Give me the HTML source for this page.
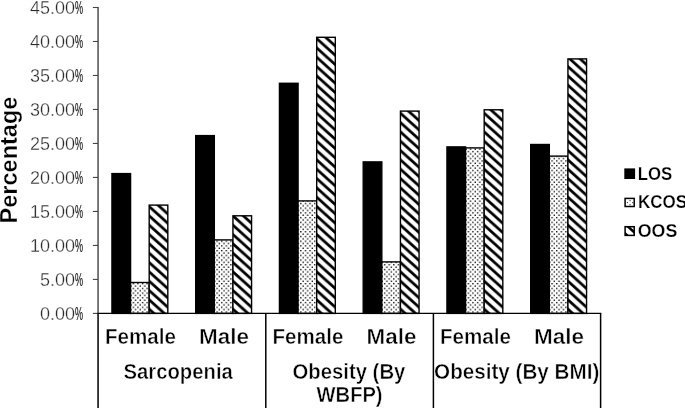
<!DOCTYPE html>
<html><head><meta charset="utf-8"><title>chart</title>
<style>html,body{margin:0;padding:0;background:#fff;}svg{display:block;will-change:transform;}text{font-family:"Liberation Sans",sans-serif;}</style></head><body>
<svg width="685" height="408" viewBox="0 0 685 408">
<defs>
<pattern id="hatch" patternUnits="userSpaceOnUse" width="10.37" height="9.33">
<rect width="10.37" height="9.33" fill="#fff"/>
<path d="M-10.37,-9.33 L20.74,18.66 M0,-9.33 L20.74,9.33 M-10.37,0 L10.37,18.66" stroke="#000" stroke-width="2.75" fill="none"/>
</pattern>
<pattern id="dots" patternUnits="userSpaceOnUse" width="4.6" height="4.72">
<rect width="4.6" height="4.72" fill="#fff"/>
<rect x="0.5" y="0.5" width="1.35" height="1.3" fill="#000"/>
<rect x="2.8" y="2.86" width="1.35" height="1.3" fill="#000"/>
</pattern>
</defs>
<rect width="685" height="408" fill="#fff"/>
<g transform="translate(111.25,308.5)"><rect x="0.7" y="-134.90" width="18.62" height="139.80" fill="#000" stroke="#000" stroke-width="1.4"/></g>
<g transform="translate(129.87,308.5)"><rect x="0.7" y="-26.00" width="18.62" height="30.90" fill="url(#dots)" stroke="#000" stroke-width="1.4"/></g>
<g transform="translate(148.49,308.5)"><rect x="0.7" y="-103.40" width="18.62" height="108.30" fill="url(#hatch)" stroke="#000" stroke-width="1.4"/></g>
<g transform="translate(195.00,308.5)"><rect x="0.7" y="-172.90" width="18.62" height="177.80" fill="#000" stroke="#000" stroke-width="1.4"/></g>
<g transform="translate(213.62,308.5)"><rect x="0.7" y="-68.60" width="18.62" height="73.50" fill="url(#dots)" stroke="#000" stroke-width="1.4"/></g>
<g transform="translate(232.24,308.5)"><rect x="0.7" y="-92.70" width="18.62" height="97.60" fill="url(#hatch)" stroke="#000" stroke-width="1.4"/></g>
<g transform="translate(278.75,308.5)"><rect x="0.7" y="-225.20" width="18.62" height="230.10" fill="#000" stroke="#000" stroke-width="1.4"/></g>
<g transform="translate(297.37,308.5)"><rect x="0.7" y="-107.60" width="18.62" height="112.50" fill="url(#dots)" stroke="#000" stroke-width="1.4"/></g>
<g transform="translate(315.99,308.5)"><rect x="0.7" y="-271.20" width="18.62" height="276.10" fill="url(#hatch)" stroke="#000" stroke-width="1.4"/></g>
<g transform="translate(362.50,308.5)"><rect x="0.7" y="-146.60" width="18.62" height="151.50" fill="#000" stroke="#000" stroke-width="1.4"/></g>
<g transform="translate(381.12,308.5)"><rect x="0.7" y="-46.60" width="18.62" height="51.50" fill="url(#dots)" stroke="#000" stroke-width="1.4"/></g>
<g transform="translate(399.74,308.5)"><rect x="0.7" y="-197.40" width="18.62" height="202.30" fill="url(#hatch)" stroke="#000" stroke-width="1.4"/></g>
<g transform="translate(446.25,308.5)"><rect x="0.7" y="-161.60" width="18.62" height="166.50" fill="#000" stroke="#000" stroke-width="1.4"/></g>
<g transform="translate(464.87,308.5)"><rect x="0.7" y="-160.60" width="18.62" height="165.50" fill="url(#dots)" stroke="#000" stroke-width="1.4"/></g>
<g transform="translate(483.49,308.5)"><rect x="0.7" y="-198.70" width="18.62" height="203.60" fill="url(#hatch)" stroke="#000" stroke-width="1.4"/></g>
<g transform="translate(530.00,308.5)"><rect x="0.7" y="-164.00" width="18.62" height="168.90" fill="#000" stroke="#000" stroke-width="1.4"/></g>
<g transform="translate(548.62,308.5)"><rect x="0.7" y="-152.40" width="18.62" height="157.30" fill="url(#dots)" stroke="#000" stroke-width="1.4"/></g>
<g transform="translate(567.24,308.5)"><rect x="0.7" y="-249.60" width="18.62" height="254.50" fill="url(#hatch)" stroke="#000" stroke-width="1.4"/></g>
<line x1="98.06" y1="7" x2="98.06" y2="313.4" stroke="#333" stroke-width="1.3"/>
<line x1="92.9" y1="313.40" x2="98.06" y2="313.40" stroke="#444" stroke-width="1.1"/>
<text x="75.1" y="319.60" font-size="18" text-anchor="end" fill="#2b2b2b" stroke="#fff" stroke-width="0.3">0.00</text>
<text transform="translate(75.1,319.60) scale(0.5,1)" font-size="18" fill="#222" stroke="#222" stroke-width="0.25">%</text>
<line x1="92.9" y1="279.41" x2="98.06" y2="279.41" stroke="#444" stroke-width="1.1"/>
<text x="75.1" y="285.61" font-size="18" text-anchor="end" fill="#2b2b2b" stroke="#fff" stroke-width="0.3">5.00</text>
<text transform="translate(75.1,285.61) scale(0.5,1)" font-size="18" fill="#222" stroke="#222" stroke-width="0.25">%</text>
<line x1="92.9" y1="245.42" x2="98.06" y2="245.42" stroke="#444" stroke-width="1.1"/>
<text x="75.1" y="251.62" font-size="18" text-anchor="end" fill="#2b2b2b" stroke="#fff" stroke-width="0.3">10.00</text>
<text transform="translate(75.1,251.62) scale(0.5,1)" font-size="18" fill="#222" stroke="#222" stroke-width="0.25">%</text>
<line x1="92.9" y1="211.43" x2="98.06" y2="211.43" stroke="#444" stroke-width="1.1"/>
<text x="75.1" y="217.63" font-size="18" text-anchor="end" fill="#2b2b2b" stroke="#fff" stroke-width="0.3">15.00</text>
<text transform="translate(75.1,217.63) scale(0.5,1)" font-size="18" fill="#222" stroke="#222" stroke-width="0.25">%</text>
<line x1="92.9" y1="177.44" x2="98.06" y2="177.44" stroke="#444" stroke-width="1.1"/>
<text x="75.1" y="183.64" font-size="18" text-anchor="end" fill="#2b2b2b" stroke="#fff" stroke-width="0.3">20.00</text>
<text transform="translate(75.1,183.64) scale(0.5,1)" font-size="18" fill="#222" stroke="#222" stroke-width="0.25">%</text>
<line x1="92.9" y1="143.45" x2="98.06" y2="143.45" stroke="#444" stroke-width="1.1"/>
<text x="75.1" y="149.65" font-size="18" text-anchor="end" fill="#2b2b2b" stroke="#fff" stroke-width="0.3">25.00</text>
<text transform="translate(75.1,149.65) scale(0.5,1)" font-size="18" fill="#222" stroke="#222" stroke-width="0.25">%</text>
<line x1="92.9" y1="109.46" x2="98.06" y2="109.46" stroke="#444" stroke-width="1.1"/>
<text x="75.1" y="115.66" font-size="18" text-anchor="end" fill="#2b2b2b" stroke="#fff" stroke-width="0.3">30.00</text>
<text transform="translate(75.1,115.66) scale(0.5,1)" font-size="18" fill="#222" stroke="#222" stroke-width="0.25">%</text>
<line x1="92.9" y1="75.47" x2="98.06" y2="75.47" stroke="#444" stroke-width="1.1"/>
<text x="75.1" y="81.67" font-size="18" text-anchor="end" fill="#2b2b2b" stroke="#fff" stroke-width="0.3">35.00</text>
<text transform="translate(75.1,81.67) scale(0.5,1)" font-size="18" fill="#222" stroke="#222" stroke-width="0.25">%</text>
<line x1="92.9" y1="41.48" x2="98.06" y2="41.48" stroke="#444" stroke-width="1.1"/>
<text x="75.1" y="47.68" font-size="18" text-anchor="end" fill="#2b2b2b" stroke="#fff" stroke-width="0.3">40.00</text>
<text transform="translate(75.1,47.68) scale(0.5,1)" font-size="18" fill="#222" stroke="#222" stroke-width="0.25">%</text>
<line x1="92.9" y1="7.49" x2="98.06" y2="7.49" stroke="#444" stroke-width="1.1"/>
<text x="75.1" y="13.69" font-size="18" text-anchor="end" fill="#2b2b2b" stroke="#fff" stroke-width="0.3">45.00</text>
<text transform="translate(75.1,13.69) scale(0.5,1)" font-size="18" fill="#222" stroke="#222" stroke-width="0.25">%</text>
<line x1="97.46000000000001" y1="313.4" x2="601.3000000000001" y2="313.4" stroke="#000" stroke-width="1.3"/>
<line x1="98.06" y1="313.4" x2="98.06" y2="408" stroke="#000" stroke-width="1.5"/>
<line x1="265.8" y1="313.4" x2="265.8" y2="408" stroke="#000" stroke-width="1.5"/>
<line x1="433.4" y1="313.4" x2="433.4" y2="408" stroke="#000" stroke-width="1.5"/>
<line x1="600.6" y1="313.4" x2="600.6" y2="408" stroke="#000" stroke-width="1.5"/>
<text x="105.00" y="343.6" font-size="21.4" font-weight="bold" fill="#000" stroke="#fff" stroke-width="0.45" textLength="70.90" lengthAdjust="spacingAndGlyphs">Female</text>
<text x="199.00" y="343.6" font-size="21.4" font-weight="bold" fill="#000" stroke="#fff" stroke-width="0.45" textLength="50.00" lengthAdjust="spacingAndGlyphs">Male</text>
<text x="272.50" y="343.6" font-size="21.4" font-weight="bold" fill="#000" stroke="#fff" stroke-width="0.45" textLength="70.90" lengthAdjust="spacingAndGlyphs">Female</text>
<text x="366.50" y="343.6" font-size="21.4" font-weight="bold" fill="#000" stroke="#fff" stroke-width="0.45" textLength="50.00" lengthAdjust="spacingAndGlyphs">Male</text>
<text x="440.00" y="343.6" font-size="21.4" font-weight="bold" fill="#000" stroke="#fff" stroke-width="0.45" textLength="70.90" lengthAdjust="spacingAndGlyphs">Female</text>
<text x="534.00" y="343.6" font-size="21.4" font-weight="bold" fill="#000" stroke="#fff" stroke-width="0.45" textLength="50.00" lengthAdjust="spacingAndGlyphs">Male</text>
<text x="123.50" y="378.9" font-size="21.4" font-weight="bold" fill="#000" stroke="#fff" stroke-width="0.45" textLength="109.30" lengthAdjust="spacingAndGlyphs">Sarcopenia</text>
<text x="292.40" y="378.8" font-size="21.4" font-weight="bold" fill="#000" stroke="#fff" stroke-width="0.45" textLength="113.00" lengthAdjust="spacingAndGlyphs">Obesity (By</text>
<text x="316.60" y="401.5" font-size="21.4" font-weight="bold" fill="#000" stroke="#fff" stroke-width="0.45" textLength="66.00" lengthAdjust="spacingAndGlyphs">WBFP)</text>
<text x="434.10" y="378.8" font-size="21.4" font-weight="bold" fill="#000" stroke="#fff" stroke-width="0.45" textLength="165.20" lengthAdjust="spacingAndGlyphs">Obesity (By BMI)</text>
<text transform="translate(17.3,223.4) rotate(-90)" font-size="23.3" font-weight="bold" fill="#000" stroke="#fff" stroke-width="0.3" textLength="126.8" lengthAdjust="spacingAndGlyphs">Percentage</text>
<rect x="624.3" y="168.4" width="10.8" height="10.6" fill="#000"/>
<rect x="625.1" y="198.4" width="9.1" height="8.1" fill="#fff" stroke="#000" stroke-width="1.5"/>
<rect x="629.5" y="200.04999999999998" width="1.1" height="1.1" fill="#333"/>
<rect x="626.85" y="202.04999999999998" width="1.1" height="1.1" fill="#333"/>
<rect x="632.1500000000001" y="202.04999999999998" width="1.1" height="1.1" fill="#333"/>
<rect x="629.5" y="204.14999999999998" width="1.1" height="1.1" fill="#333"/>
<clipPath id="sw3"><rect x="625.1" y="226.7" width="9.1" height="8.7"/></clipPath>
<g clip-path="url(#sw3)"><rect x="624" y="225" width="12" height="12" fill="#fff"/><path d="M626,224.8 L636.5,234.3" stroke="#000" stroke-width="2.5" fill="none"/><path d="M624,230.8 L630.6,236.7 L624,236.7 Z" fill="#000"/></g>
<rect x="625.1" y="226.7" width="9.1" height="8.7" fill="none" stroke="#000" stroke-width="1.5"/>
<text x="637.70" y="179.5" font-size="18.0" font-weight="bold" fill="#000" stroke="#fff" stroke-width="0.25" textLength="34.50" lengthAdjust="spacingAndGlyphs">LOS</text>
<text x="637.90" y="208.2" font-size="18.0" font-weight="bold" fill="#000" stroke="#fff" stroke-width="0.25" textLength="49.10" lengthAdjust="spacingAndGlyphs">KCOS</text>
<text x="637.80" y="236.9" font-size="18.0" font-weight="bold" fill="#000" stroke="#fff" stroke-width="0.25" textLength="39.50" lengthAdjust="spacingAndGlyphs">OOS</text>
</svg></body></html>
